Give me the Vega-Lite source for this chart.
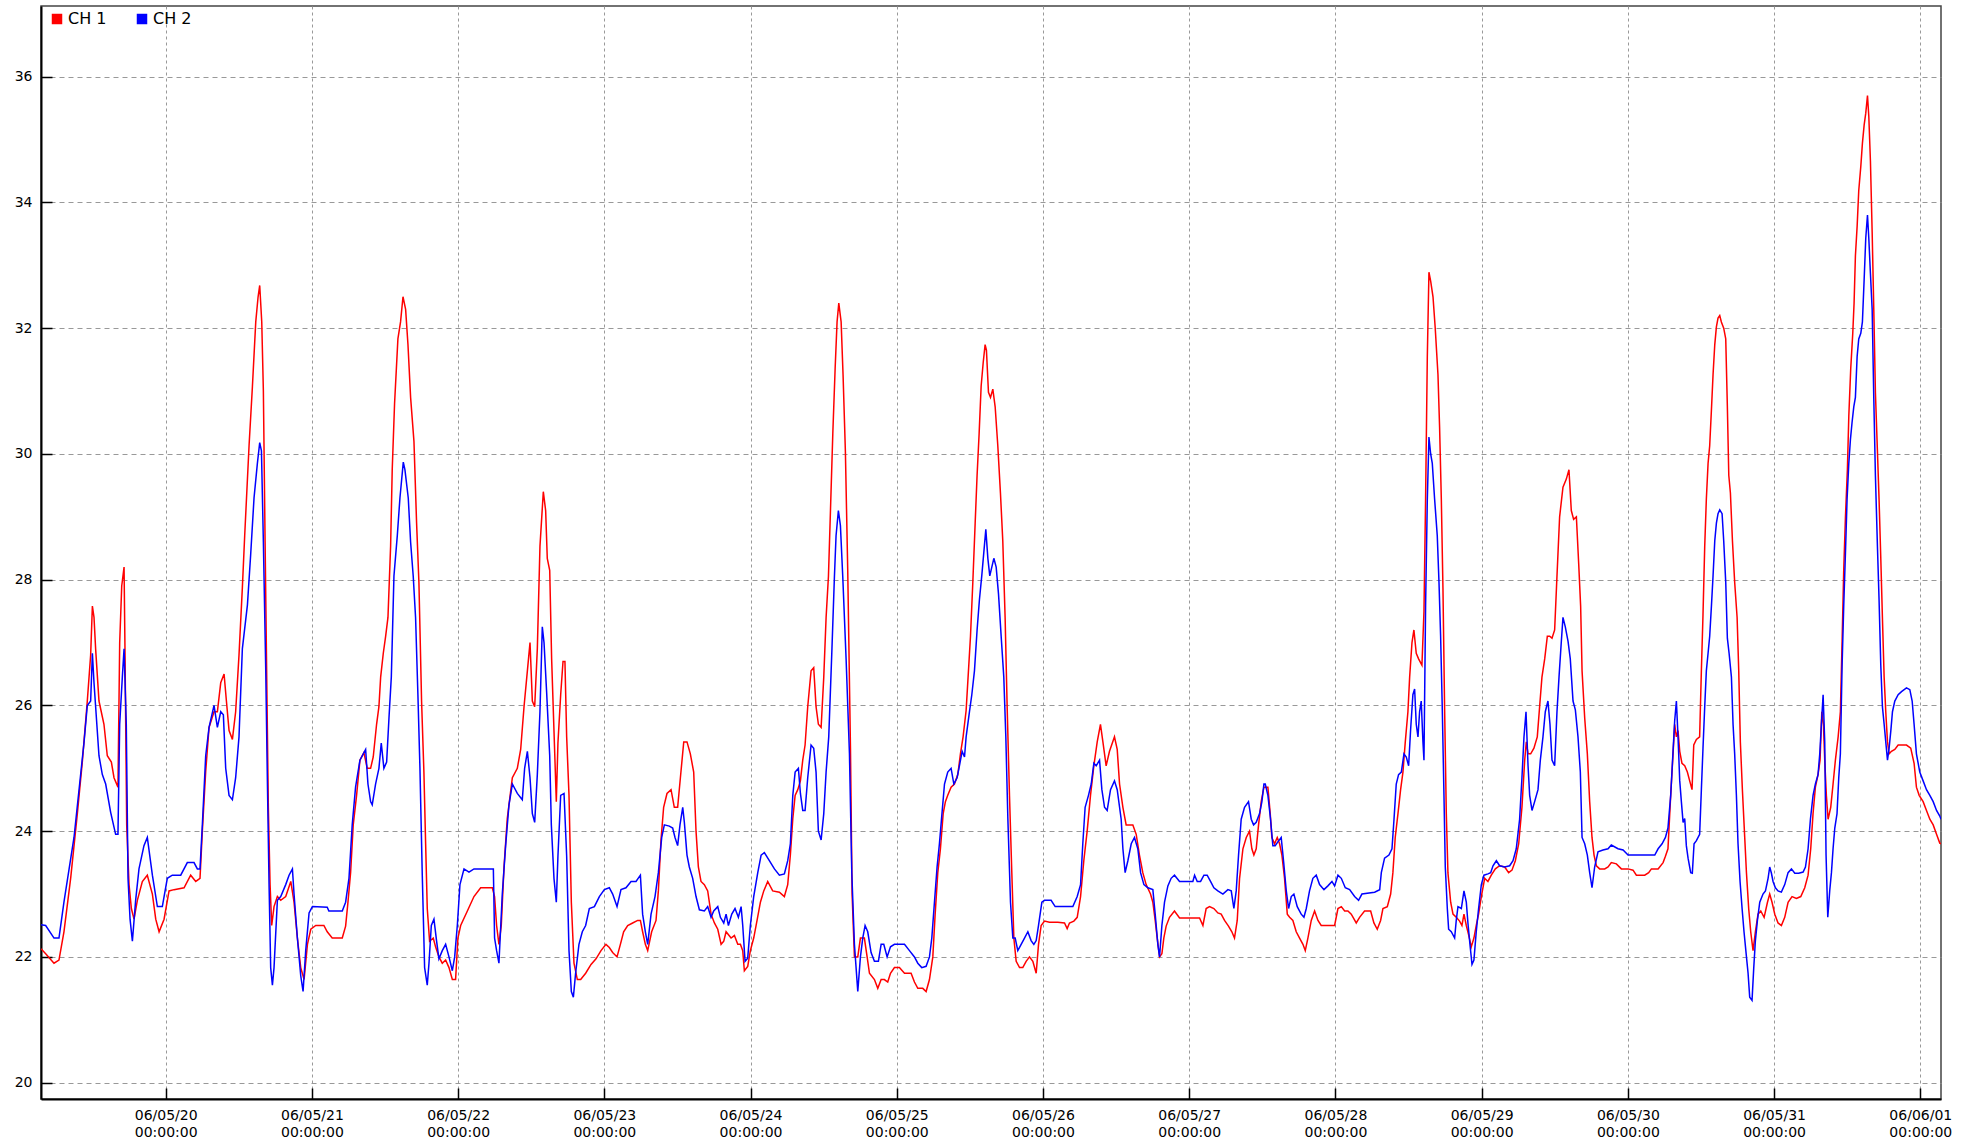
{
"$schema":"https://vega.github.io/schema/vega-lite/v6.json",
"width":1900,"height":1093,
"autosize":{"type":"none"},
"padding":{"left":41,"top":6,"right":36,"bottom":43},
"background":"white",
"config":{"view":{"stroke":"#444","strokeWidth":1.5},"font":"DejaVu Sans","axis":{"labelFont":"DejaVu Sans","labelColor":"#000"},"legend":{"labelFont":"DejaVu Sans"}},
"datasets":{
"ch1":[
{"t":"2006-05-19T03:32","v":22.13},{"t":"2006-05-19T04:18","v":22.05},{"t":"2006-05-19T05:40","v":21.9},{"t":"2006-05-19T06:29","v":21.95},{"t":"2006-05-19T07:18","v":22.4},{"t":"2006-05-19T08:24","v":23.25},{"t":"2006-05-19T09:30","v":24.28},{"t":"2006-05-19T10:19","v":25.1},{"t":"2006-05-19T11:08","v":26.07},{"t":"2006-05-19T11:41","v":26.8},{"t":"2006-05-19T11:58","v":27.58},{"t":"2006-05-19T12:14","v":27.4},{"t":"2006-05-19T12:30","v":26.9},{"t":"2006-05-19T13:03","v":26.07},{"t":"2006-05-19T13:52","v":25.7},{"t":"2006-05-19T14:25","v":25.2},{"t":"2006-05-19T15:05","v":25.1},{"t":"2006-05-19T15:31","v":24.85},{"t":"2006-05-19T16:10","v":24.7},{"t":"2006-05-19T16:27","v":27.0},{"t":"2006-05-19T16:47","v":27.9},{"t":"2006-05-19T17:10","v":28.2},{"t":"2006-05-19T17:19","v":26.9},{"t":"2006-05-19T17:36","v":24.1},{"t":"2006-05-19T17:59","v":23.15},{"t":"2006-05-19T18:22","v":22.77},{"t":"2006-05-19T18:48","v":22.6},{"t":"2006-05-19T19:21","v":22.9},{"t":"2006-05-19T20:10","v":23.2},{"t":"2006-05-19T20:59","v":23.3},{"t":"2006-05-19T21:49","v":23.0},{"t":"2006-05-19T22:22","v":22.6},{"t":"2006-05-19T22:55","v":22.4},{"t":"2006-05-19T23:44","v":22.6},
{"t":"2006-05-20T00:33","v":23.05},{"t":"2006-05-20T01:22","v":23.07},{"t":"2006-05-20T03:01","v":23.1},{"t":"2006-05-20T04:06","v":23.3},{"t":"2006-05-20T04:56","v":23.2},{"t":"2006-05-20T05:38","v":23.25},{"t":"2006-05-20T06:01","v":24.0},{"t":"2006-05-20T06:34","v":24.95},{"t":"2006-05-20T07:07","v":25.65},{"t":"2006-05-20T07:56","v":25.9},{"t":"2006-05-20T08:29","v":25.9},{"t":"2006-05-20T09:02","v":26.36},{"t":"2006-05-20T09:35","v":26.5},{"t":"2006-05-20T09:58","v":26.07},{"t":"2006-05-20T10:24","v":25.6},{"t":"2006-05-20T10:57","v":25.46},{"t":"2006-05-20T11:29","v":25.9},{"t":"2006-05-20T12:02","v":26.8},{"t":"2006-05-20T12:35","v":27.87},{"t":"2006-05-20T12:58","v":28.7},{"t":"2006-05-20T13:41","v":30.13},{"t":"2006-05-20T14:14","v":31.07},{"t":"2006-05-20T14:47","v":32.1},{"t":"2006-05-20T15:10","v":32.5},{"t":"2006-05-20T15:26","v":32.68},{"t":"2006-05-20T15:46","v":32.1},{"t":"2006-05-20T16:02","v":31.0},{"t":"2006-05-20T16:19","v":28.6},{"t":"2006-05-20T16:35","v":26.45},{"t":"2006-05-20T16:51","v":24.38},{"t":"2006-05-20T17:08","v":23.15},{"t":"2006-05-20T17:24","v":22.5},{"t":"2006-05-20T17:47","v":22.8},{"t":"2006-05-20T18:20","v":22.96},{"t":"2006-05-20T18:53","v":22.9},{"t":"2006-05-20T19:42","v":22.96},{"t":"2006-05-20T20:32","v":23.2},{"t":"2006-05-20T21:04","v":22.87},{"t":"2006-05-20T21:37","v":22.3},{"t":"2006-05-20T22:10","v":21.83},{"t":"2006-05-20T22:43","v":21.64},{"t":"2006-05-20T23:16","v":22.2},{"t":"2006-05-20T23:49","v":22.44},
{"t":"2006-05-21T00:38","v":22.5},{"t":"2006-05-21T01:58","v":22.5},{"t":"2006-05-21T02:31","v":22.4},{"t":"2006-05-21T03:20","v":22.3},{"t":"2006-05-21T04:59","v":22.3},{"t":"2006-05-21T05:32","v":22.49},{"t":"2006-05-21T05:55","v":22.87},{"t":"2006-05-21T06:21","v":23.34},{"t":"2006-05-21T06:47","v":24.1},{"t":"2006-05-21T07:20","v":24.57},{"t":"2006-05-21T07:53","v":25.13},{"t":"2006-05-21T08:32","v":25.25},{"t":"2006-05-21T09:05","v":25.0},{"t":"2006-05-21T09:38","v":25.0},{"t":"2006-05-21T10:04","v":25.18},{"t":"2006-05-21T10:37","v":25.7},{"t":"2006-05-21T11:00","v":25.98},{"t":"2006-05-21T11:17","v":26.45},{"t":"2006-05-21T11:43","v":26.83},{"t":"2006-05-21T12:06","v":27.1},{"t":"2006-05-21T12:29","v":27.4},{"t":"2006-05-21T12:55","v":28.53},{"t":"2006-05-21T13:11","v":29.75},{"t":"2006-05-21T13:34","v":30.8},{"t":"2006-05-21T14:07","v":31.83},{"t":"2006-05-21T14:33","v":32.1},{"t":"2006-05-21T14:57","v":32.5},{"t":"2006-05-21T15:23","v":32.3},{"t":"2006-05-21T15:46","v":31.74},{"t":"2006-05-21T16:12","v":30.9},{"t":"2006-05-21T16:45","v":30.2},{"t":"2006-05-21T17:11","v":28.9},{"t":"2006-05-21T17:34","v":27.95},{"t":"2006-05-21T18:00","v":26.07},{"t":"2006-05-21T18:23","v":24.94},{"t":"2006-05-21T18:40","v":23.8},{"t":"2006-05-21T18:56","v":22.77},{"t":"2006-05-21T19:19","v":22.25},{"t":"2006-05-21T19:55","v":22.3},{"t":"2006-05-21T20:18","v":22.16},{"t":"2006-05-21T20:51","v":22.0},{"t":"2006-05-21T21:24","v":21.9},{"t":"2006-05-21T21:57","v":21.95},{"t":"2006-05-21T22:30","v":21.83},{"t":"2006-05-21T23:03","v":21.64},{"t":"2006-05-21T23:35","v":21.64},{"t":"2006-05-21T23:58","v":22.3},
{"t":"2006-05-22T00:25","v":22.5},{"t":"2006-05-22T01:31","v":22.73},{"t":"2006-05-22T02:36","v":22.96},{"t":"2006-05-22T03:42","v":23.1},{"t":"2006-05-22T05:37","v":23.1},{"t":"2006-05-22T05:59","v":22.96},{"t":"2006-05-22T06:19","v":22.5},{"t":"2006-05-22T06:42","v":22.2},{"t":"2006-05-22T07:05","v":22.5},{"t":"2006-05-22T07:32","v":23.43},{"t":"2006-05-22T08:04","v":24.2},{"t":"2006-05-22T08:54","v":24.85},{"t":"2006-05-22T09:43","v":25.0},{"t":"2006-05-22T10:16","v":25.3},{"t":"2006-05-22T10:49","v":25.98},{"t":"2006-05-22T11:22","v":26.55},{"t":"2006-05-22T11:48","v":27.0},{"t":"2006-05-22T12:11","v":26.07},{"t":"2006-05-22T12:34","v":25.98},{"t":"2006-05-22T13:00","v":26.9},{"t":"2006-05-22T13:26","v":28.53},{"t":"2006-05-22T13:59","v":29.4},{"t":"2006-05-22T14:22","v":29.1},{"t":"2006-05-22T14:38","v":28.34},{"t":"2006-05-22T15:02","v":28.15},{"t":"2006-05-22T15:21","v":26.74},{"t":"2006-05-22T15:44","v":25.6},{"t":"2006-05-22T16:07","v":24.47},{"t":"2006-05-22T16:23","v":25.4},{"t":"2006-05-22T16:50","v":26.17},{"t":"2006-05-22T17:13","v":26.7},{"t":"2006-05-22T17:32","v":26.7},{"t":"2006-05-22T17:49","v":25.5},{"t":"2006-05-22T18:12","v":24.57},{"t":"2006-05-22T18:35","v":22.87},{"t":"2006-05-22T19:01","v":21.9},{"t":"2006-05-22T19:34","v":21.64},{"t":"2006-05-22T20:07","v":21.64},{"t":"2006-05-22T20:56","v":21.74},{"t":"2006-05-22T21:49","v":21.88},{"t":"2006-05-22T22:38","v":21.97},{"t":"2006-05-22T23:27","v":22.1},
{"t":"2006-05-23T00:16","v":22.2},{"t":"2006-05-23T00:49","v":22.15},{"t":"2006-05-23T01:22","v":22.07},{"t":"2006-05-23T02:05","v":22.0},{"t":"2006-05-23T02:38","v":22.2},{"t":"2006-05-23T03:10","v":22.4},{"t":"2006-05-23T03:50","v":22.5},{"t":"2006-05-23T04:39","v":22.54},{"t":"2006-05-23T05:28","v":22.58},{"t":"2006-05-23T05:55","v":22.58},{"t":"2006-05-23T06:17","v":22.4},{"t":"2006-05-23T06:44","v":22.2},{"t":"2006-05-23T07:07","v":22.1},{"t":"2006-05-23T07:46","v":22.4},{"t":"2006-05-23T08:29","v":22.58},{"t":"2006-05-23T08:52","v":23.05},{"t":"2006-05-23T09:18","v":23.86},{"t":"2006-05-23T09:44","v":24.38},{"t":"2006-05-23T10:17","v":24.6},{"t":"2006-05-23T10:57","v":24.66},{"t":"2006-05-23T11:29","v":24.38},{"t":"2006-05-23T12:02","v":24.38},{"t":"2006-05-23T12:29","v":24.85},{"t":"2006-05-23T13:02","v":25.42},{"t":"2006-05-23T13:34","v":25.42},{"t":"2006-05-23T14:07","v":25.23},{"t":"2006-05-23T14:40","v":24.94},{"t":"2006-05-23T15:03","v":24.0},{"t":"2006-05-23T15:26","v":23.43},{"t":"2006-05-23T15:52","v":23.2},{"t":"2006-05-23T16:25","v":23.15},{"t":"2006-05-23T16:58","v":23.05},{"t":"2006-05-23T17:31","v":22.68},{"t":"2006-05-23T18:04","v":22.54},{"t":"2006-05-23T18:37","v":22.44},{"t":"2006-05-23T19:10","v":22.2},{"t":"2006-05-23T19:36","v":22.25},{"t":"2006-05-23T19:59","v":22.4},{"t":"2006-05-23T20:48","v":22.3},{"t":"2006-05-23T21:21","v":22.34},{"t":"2006-05-23T21:54","v":22.2},{"t":"2006-05-23T22:20","v":22.2},{"t":"2006-05-23T22:43","v":22.1},{"t":"2006-05-23T22:59","v":21.78},{"t":"2006-05-23T23:32","v":21.85},{"t":"2006-05-23T23:58","v":22.1},
{"t":"2006-05-24T00:31","v":22.3},{"t":"2006-05-24T01:04","v":22.58},{"t":"2006-05-24T01:37","v":22.87},{"t":"2006-05-24T02:10","v":23.05},{"t":"2006-05-24T02:49","v":23.2},{"t":"2006-05-24T03:38","v":23.05},{"t":"2006-05-24T04:44","v":23.03},{"t":"2006-05-24T05:33","v":22.96},{"t":"2006-05-24T06:06","v":23.15},{"t":"2006-05-24T06:32","v":23.62},{"t":"2006-05-24T06:56","v":24.2},{"t":"2006-05-24T07:19","v":24.57},{"t":"2006-05-24T07:45","v":24.66},{"t":"2006-05-24T08:11","v":24.8},{"t":"2006-05-24T08:34","v":25.13},{"t":"2006-05-24T08:57","v":25.37},{"t":"2006-05-24T09:23","v":25.98},{"t":"2006-05-24T09:56","v":26.55},{"t":"2006-05-24T10:22","v":26.6},{"t":"2006-05-24T10:45","v":25.98},{"t":"2006-05-24T11:08","v":25.7},{"t":"2006-05-24T11:35","v":25.65},{"t":"2006-05-24T12:01","v":26.45},{"t":"2006-05-24T12:24","v":27.4},{"t":"2006-05-24T12:47","v":28.05},{"t":"2006-05-24T13:07","v":29.1},{"t":"2006-05-24T13:30","v":30.32},{"t":"2006-05-24T13:53","v":31.36},{"t":"2006-05-24T14:12","v":32.1},{"t":"2006-05-24T14:29","v":32.4},{"t":"2006-05-24T14:52","v":32.1},{"t":"2006-05-24T15:11","v":31.26},{"t":"2006-05-24T15:34","v":30.04},{"t":"2006-05-24T15:57","v":28.15},{"t":"2006-05-24T16:24","v":25.32},{"t":"2006-05-24T16:40","v":23.0},{"t":"2006-05-24T17:03","v":22.0},{"t":"2006-05-24T17:36","v":22.0},{"t":"2006-05-24T18:02","v":22.3},{"t":"2006-05-24T18:41","v":22.3},{"t":"2006-05-24T19:08","v":22.0},{"t":"2006-05-24T19:31","v":21.74},{"t":"2006-05-24T20:20","v":21.64},{"t":"2006-05-24T20:53","v":21.5},{"t":"2006-05-24T21:26","v":21.64},{"t":"2006-05-24T21:58","v":21.64},{"t":"2006-05-24T22:31","v":21.6},{"t":"2006-05-24T22:58","v":21.74},{"t":"2006-05-24T23:37","v":21.83},
{"t":"2006-05-25T00:26","v":21.83},{"t":"2006-05-25T01:16","v":21.74},{"t":"2006-05-25T02:21","v":21.74},{"t":"2006-05-25T02:54","v":21.6},{"t":"2006-05-25T03:27","v":21.5},{"t":"2006-05-25T04:16","v":21.5},{"t":"2006-05-25T04:49","v":21.45},{"t":"2006-05-25T05:22","v":21.64},{"t":"2006-05-25T05:55","v":22.0},{"t":"2006-05-25T06:18","v":22.68},{"t":"2006-05-25T06:44","v":23.34},{"t":"2006-05-25T07:10","v":23.72},{"t":"2006-05-25T07:37","v":24.28},{"t":"2006-05-25T07:59","v":24.47},{"t":"2006-05-25T08:22","v":24.57},{"t":"2006-05-25T08:55","v":24.7},{"t":"2006-05-25T09:28","v":24.75},{"t":"2006-05-25T10:01","v":24.9},{"t":"2006-05-25T10:27","v":25.23},{"t":"2006-05-25T10:53","v":25.5},{"t":"2006-05-25T11:23","v":25.92},{"t":"2006-05-25T11:46","v":26.55},{"t":"2006-05-25T12:06","v":27.1},{"t":"2006-05-25T12:29","v":27.96},{"t":"2006-05-25T12:52","v":28.9},{"t":"2006-05-25T13:11","v":29.66},{"t":"2006-05-25T13:31","v":30.32},{"t":"2006-05-25T13:51","v":31.08},{"t":"2006-05-25T14:11","v":31.45},{"t":"2006-05-25T14:30","v":31.74},{"t":"2006-05-25T14:43","v":31.65},{"t":"2006-05-25T15:03","v":30.98},{"t":"2006-05-25T15:23","v":30.9},{"t":"2006-05-25T15:46","v":31.03},{"t":"2006-05-25T16:09","v":30.75},{"t":"2006-05-25T16:35","v":30.13},{"t":"2006-05-25T17:01","v":29.38},{"t":"2006-05-25T17:24","v":28.62},{"t":"2006-05-25T17:47","v":27.4},{"t":"2006-05-25T18:07","v":25.98},{"t":"2006-05-25T18:30","v":24.57},{"t":"2006-05-25T18:53","v":23.34},{"t":"2006-05-25T19:13","v":22.3},{"t":"2006-05-25T19:36","v":21.93},{"t":"2006-05-25T20:09","v":21.83},{"t":"2006-05-25T20:41","v":21.83},{"t":"2006-05-25T21:14","v":21.93},{"t":"2006-05-25T21:47","v":22.0},{"t":"2006-05-25T22:20","v":21.93},{"t":"2006-05-25T22:53","v":21.74},{"t":"2006-05-25T23:16","v":22.2},{"t":"2006-05-25T23:42","v":22.5},
{"t":"2006-05-26T00:15","v":22.57},{"t":"2006-05-26T01:04","v":22.55},{"t":"2006-05-26T02:26","v":22.55},{"t":"2006-05-26T03:32","v":22.54},{"t":"2006-05-26T03:58","v":22.45},{"t":"2006-05-26T04:21","v":22.54},{"t":"2006-05-26T05:04","v":22.57},{"t":"2006-05-26T05:37","v":22.63},{"t":"2006-05-26T06:10","v":22.96},{"t":"2006-05-26T06:42","v":23.53},{"t":"2006-05-26T07:15","v":24.0},{"t":"2006-05-26T07:48","v":24.57},{"t":"2006-05-26T08:21","v":25.04},{"t":"2006-05-26T08:54","v":25.42},{"t":"2006-05-26T09:26","v":25.7},{"t":"2006-05-26T09:50","v":25.42},{"t":"2006-05-26T10:22","v":25.04},{"t":"2006-05-26T10:55","v":25.27},{"t":"2006-05-26T11:44","v":25.5},{"t":"2006-05-26T12:11","v":25.3},{"t":"2006-05-26T12:34","v":24.75},{"t":"2006-05-26T13:07","v":24.38},{"t":"2006-05-26T13:39","v":24.1},{"t":"2006-05-26T14:45","v":24.1},{"t":"2006-05-26T15:18","v":23.95},{"t":"2006-05-26T15:50","v":23.62},{"t":"2006-05-26T16:23","v":23.34},{"t":"2006-05-26T16:56","v":23.15},{"t":"2006-05-26T17:39","v":23.0},{"t":"2006-05-26T18:02","v":22.87},{"t":"2006-05-26T18:25","v":22.58},{"t":"2006-05-26T18:45","v":22.3},{"t":"2006-05-26T19:08","v":22.0},{"t":"2006-05-26T19:31","v":22.05},{"t":"2006-05-26T19:50","v":22.3},{"t":"2006-05-26T20:13","v":22.49},{"t":"2006-05-26T20:46","v":22.63},{"t":"2006-05-26T21:35","v":22.73},{"t":"2006-05-26T22:25","v":22.62},{"t":"2006-05-26T23:47","v":22.62},
{"t":"2006-05-27T01:42","v":22.62},{"t":"2006-05-27T02:15","v":22.5},{"t":"2006-05-27T02:47","v":22.77},{"t":"2006-05-27T03:20","v":22.8},{"t":"2006-05-27T04:03","v":22.77},{"t":"2006-05-27T04:42","v":22.7},{"t":"2006-05-27T05:15","v":22.68},{"t":"2006-05-27T05:48","v":22.58},{"t":"2006-05-27T06:27","v":22.49},{"t":"2006-05-27T07:00","v":22.4},{"t":"2006-05-27T07:26","v":22.3},{"t":"2006-05-27T07:53","v":22.58},{"t":"2006-05-27T08:16","v":23.25},{"t":"2006-05-27T08:49","v":23.72},{"t":"2006-05-27T09:22","v":23.9},{"t":"2006-05-27T09:54","v":24.0},{"t":"2006-05-27T10:17","v":23.72},{"t":"2006-05-27T10:37","v":23.62},{"t":"2006-05-27T11:00","v":23.72},{"t":"2006-05-27T11:23","v":24.1},{"t":"2006-05-27T11:49","v":24.47},{"t":"2006-05-27T12:16","v":24.7},{"t":"2006-05-27T12:55","v":24.7},{"t":"2006-05-27T13:18","v":24.28},{"t":"2006-05-27T13:34","v":23.9},{"t":"2006-05-27T14:01","v":23.8},{"t":"2006-05-27T14:27","v":23.9},{"t":"2006-05-27T14:50","v":23.8},{"t":"2006-05-27T15:13","v":23.62},{"t":"2006-05-27T15:39","v":23.25},{"t":"2006-05-27T16:06","v":22.68},{"t":"2006-05-27T16:29","v":22.63},{"t":"2006-05-27T17:01","v":22.58},{"t":"2006-05-27T17:34","v":22.4},{"t":"2006-05-27T18:07","v":22.3},{"t":"2006-05-27T18:40","v":22.2},{"t":"2006-05-27T19:03","v":22.1},{"t":"2006-05-27T19:29","v":22.3},{"t":"2006-05-27T20:02","v":22.58},{"t":"2006-05-27T20:35","v":22.73},{"t":"2006-05-27T21:08","v":22.58},{"t":"2006-05-27T21:40","v":22.5},{"t":"2006-05-27T23:52","v":22.5},
{"t":"2006-05-28T00:25","v":22.77},{"t":"2006-05-28T00:58","v":22.8},{"t":"2006-05-28T01:31","v":22.73},{"t":"2006-05-28T02:03","v":22.73},{"t":"2006-05-28T02:36","v":22.68},{"t":"2006-05-28T03:25","v":22.54},{"t":"2006-05-28T03:58","v":22.63},{"t":"2006-05-28T04:47","v":22.73},{"t":"2006-05-28T05:47","v":22.73},{"t":"2006-05-28T06:19","v":22.54},{"t":"2006-05-28T06:52","v":22.44},{"t":"2006-05-28T07:25","v":22.58},{"t":"2006-05-28T07:48","v":22.77},{"t":"2006-05-28T08:31","v":22.8},{"t":"2006-05-28T09:04","v":23.0},{"t":"2006-05-28T09:26","v":23.34},{"t":"2006-05-28T09:49","v":23.9},{"t":"2006-05-28T10:16","v":24.28},{"t":"2006-05-28T10:42","v":24.66},{"t":"2006-05-28T11:05","v":24.94},{"t":"2006-05-28T11:28","v":25.42},{"t":"2006-05-28T11:54","v":25.9},{"t":"2006-05-28T12:11","v":26.45},{"t":"2006-05-28T12:34","v":27.0},{"t":"2006-05-28T12:53","v":27.2},{"t":"2006-05-28T13:16","v":26.83},{"t":"2006-05-28T13:39","v":26.74},{"t":"2006-05-28T14:12","v":26.64},{"t":"2006-05-28T14:32","v":27.49},{"t":"2006-05-28T14:48","v":29.28},{"t":"2006-05-28T15:05","v":31.55},{"t":"2006-05-28T15:21","v":32.89},{"t":"2006-05-28T15:38","v":32.75},{"t":"2006-05-28T16:01","v":32.5},{"t":"2006-05-28T16:23","v":32.0},{"t":"2006-05-28T16:50","v":31.26},{"t":"2006-05-28T17:06","v":30.42},{"t":"2006-05-28T17:23","v":29.28},{"t":"2006-05-28T17:39","v":27.87},{"t":"2006-05-28T17:55","v":25.98},{"t":"2006-05-28T18:12","v":24.28},{"t":"2006-05-28T18:28","v":23.34},{"t":"2006-05-28T18:55","v":22.87},{"t":"2006-05-28T19:18","v":22.68},{"t":"2006-05-28T19:50","v":22.63},{"t":"2006-05-28T20:23","v":22.57},{"t":"2006-05-28T20:46","v":22.5},{"t":"2006-05-28T21:06","v":22.68},{"t":"2006-05-28T21:29","v":22.5},{"t":"2006-05-28T21:52","v":22.35},{"t":"2006-05-28T22:18","v":22.16},{"t":"2006-05-28T22:44","v":22.3},{"t":"2006-05-28T23:07","v":22.5},{"t":"2006-05-28T23:30","v":22.68},{"t":"2006-05-28T23:57","v":22.96},
{"t":"2006-05-29T00:30","v":23.25},{"t":"2006-05-29T01:02","v":23.2},{"t":"2006-05-29T01:35","v":23.3},{"t":"2006-05-29T02:15","v":23.4},{"t":"2006-05-29T02:57","v":23.45},{"t":"2006-05-29T03:47","v":23.43},{"t":"2006-05-29T04:26","v":23.34},{"t":"2006-05-29T04:59","v":23.38},{"t":"2006-05-29T05:32","v":23.53},{"t":"2006-05-29T06:05","v":23.8},{"t":"2006-05-29T06:37","v":24.38},{"t":"2006-05-29T07:04","v":25.13},{"t":"2006-05-29T07:20","v":25.42},{"t":"2006-05-29T07:37","v":25.23},{"t":"2006-05-29T08:03","v":25.23},{"t":"2006-05-29T08:35","v":25.32},{"t":"2006-05-29T09:08","v":25.5},{"t":"2006-05-29T09:31","v":25.98},{"t":"2006-05-29T09:54","v":26.45},{"t":"2006-05-29T10:21","v":26.74},{"t":"2006-05-29T10:47","v":27.1},{"t":"2006-05-29T11:10","v":27.1},{"t":"2006-05-29T11:33","v":27.07},{"t":"2006-05-29T11:59","v":27.2},{"t":"2006-05-29T12:22","v":28.06},{"t":"2006-05-29T12:48","v":29.0},{"t":"2006-05-29T13:21","v":29.47},{"t":"2006-05-29T13:54","v":29.6},{"t":"2006-05-29T14:20","v":29.75},{"t":"2006-05-29T14:43","v":29.1},{"t":"2006-05-29T15:06","v":28.96},{"t":"2006-05-29T15:33","v":29.0},{"t":"2006-05-29T15:56","v":28.25},{"t":"2006-05-29T16:15","v":27.58},{"t":"2006-05-29T16:29","v":26.55},{"t":"2006-05-29T16:55","v":25.8},{"t":"2006-05-29T17:21","v":25.23},{"t":"2006-05-29T17:44","v":24.47},{"t":"2006-05-29T18:07","v":23.9},{"t":"2006-05-29T18:27","v":23.62},{"t":"2006-05-29T18:50","v":23.45},{"t":"2006-05-29T19:22","v":23.4},{"t":"2006-05-29T20:12","v":23.4},{"t":"2006-05-29T20:45","v":23.43},{"t":"2006-05-29T21:17","v":23.5},{"t":"2006-05-29T22:07","v":23.48},{"t":"2006-05-29T22:56","v":23.4},
{"t":"2006-05-30T00:02","v":23.4},{"t":"2006-05-30T00:51","v":23.38},{"t":"2006-05-30T01:24","v":23.3},{"t":"2006-05-30T02:46","v":23.3},{"t":"2006-05-30T03:25","v":23.34},{"t":"2006-05-30T03:52","v":23.4},{"t":"2006-05-30T04:58","v":23.4},{"t":"2006-05-30T05:47","v":23.5},{"t":"2006-05-30T06:10","v":23.6},{"t":"2006-05-30T06:35","v":23.72},{"t":"2006-05-30T07:02","v":24.57},{"t":"2006-05-30T07:25","v":25.23},{"t":"2006-05-30T07:41","v":25.7},{"t":"2006-05-30T07:58","v":25.5},{"t":"2006-05-30T08:14","v":25.6},{"t":"2006-05-30T08:31","v":25.27},{"t":"2006-05-30T08:53","v":25.08},{"t":"2006-05-30T09:20","v":25.04},{"t":"2006-05-30T09:46","v":24.94},{"t":"2006-05-30T10:09","v":24.8},{"t":"2006-05-30T10:32","v":24.66},{"t":"2006-05-30T10:49","v":25.37},{"t":"2006-05-30T11:15","v":25.46},{"t":"2006-05-30T11:47","v":25.5},{"t":"2006-05-30T12:04","v":26.55},{"t":"2006-05-30T12:20","v":27.44},{"t":"2006-05-30T12:37","v":28.53},{"t":"2006-05-30T12:53","v":29.28},{"t":"2006-05-30T13:10","v":29.85},{"t":"2006-05-30T13:26","v":30.13},{"t":"2006-05-30T13:43","v":30.7},{"t":"2006-05-30T13:59","v":31.26},{"t":"2006-05-30T14:16","v":31.74},{"t":"2006-05-30T14:32","v":32.02},{"t":"2006-05-30T14:48","v":32.16},{"t":"2006-05-30T15:05","v":32.2},{"t":"2006-05-30T15:21","v":32.1},{"t":"2006-05-30T15:44","v":32.0},{"t":"2006-05-30T16:04","v":31.83},{"t":"2006-05-30T16:20","v":30.75},{"t":"2006-05-30T16:34","v":29.66},{"t":"2006-05-30T16:50","v":29.38},{"t":"2006-05-30T17:10","v":28.62},{"t":"2006-05-30T17:32","v":27.96},{"t":"2006-05-30T17:56","v":27.4},{"t":"2006-05-30T18:12","v":26.55},{"t":"2006-05-30T18:28","v":25.42},{"t":"2006-05-30T18:48","v":24.66},{"t":"2006-05-30T19:11","v":23.9},{"t":"2006-05-30T19:28","v":23.34},{"t":"2006-05-30T19:50","v":22.77},{"t":"2006-05-30T20:10","v":22.4},{"t":"2006-05-30T20:33","v":22.1},{"t":"2006-05-30T20:56","v":22.4},{"t":"2006-05-30T21:22","v":22.68},{"t":"2006-05-30T21:49","v":22.73},{"t":"2006-05-30T22:22","v":22.63},{"t":"2006-05-30T22:55","v":22.87},{"t":"2006-05-30T23:17","v":23.0},{"t":"2006-05-30T23:40","v":22.87},
{"t":"2006-05-31T00:07","v":22.68},{"t":"2006-05-31T00:39","v":22.54},{"t":"2006-05-31T01:12","v":22.5},{"t":"2006-05-31T01:45","v":22.63},{"t":"2006-05-31T02:18","v":22.87},{"t":"2006-05-31T02:57","v":22.96},{"t":"2006-05-31T03:40","v":22.93},{"t":"2006-05-31T04:23","v":22.96},{"t":"2006-05-31T05:02","v":23.1},{"t":"2006-05-31T05:35","v":23.3},{"t":"2006-05-31T06:01","v":23.72},{"t":"2006-05-31T06:24","v":24.28},{"t":"2006-05-31T06:47","v":24.7},{"t":"2006-05-31T07:13","v":24.9},{"t":"2006-05-31T07:33","v":25.13},{"t":"2006-05-31T07:50","v":25.9},{"t":"2006-05-31T08:06","v":25.7},{"t":"2006-05-31T08:19","v":25.13},{"t":"2006-05-31T08:35","v":24.57},{"t":"2006-05-31T08:52","v":24.19},{"t":"2006-05-31T09:18","v":24.38},{"t":"2006-05-31T09:41","v":24.75},{"t":"2006-05-31T10:04","v":25.13},{"t":"2006-05-31T10:31","v":25.5},{"t":"2006-05-31T10:53","v":25.9},{"t":"2006-05-31T11:10","v":27.02},{"t":"2006-05-31T11:26","v":28.15},{"t":"2006-05-31T11:43","v":29.0},{"t":"2006-05-31T12:02","v":29.75},{"t":"2006-05-31T12:16","v":30.6},{"t":"2006-05-31T12:35","v":31.36},{"t":"2006-05-31T12:55","v":31.92},{"t":"2006-05-31T13:08","v":32.4},{"t":"2006-05-31T13:21","v":33.15},{"t":"2006-05-31T13:38","v":33.62},{"t":"2006-05-31T13:54","v":34.19},{"t":"2006-05-31T14:14","v":34.57},{"t":"2006-05-31T14:30","v":34.94},{"t":"2006-05-31T14:47","v":35.23},{"t":"2006-05-31T15:03","v":35.42},{"t":"2006-05-31T15:20","v":35.7},{"t":"2006-05-31T15:33","v":35.37},{"t":"2006-05-31T15:49","v":34.66},{"t":"2006-05-31T16:06","v":33.53},{"t":"2006-05-31T16:22","v":32.3},{"t":"2006-05-31T16:38","v":30.98},{"t":"2006-05-31T16:58","v":30.04},{"t":"2006-05-31T17:14","v":29.28},{"t":"2006-05-31T17:31","v":28.34},{"t":"2006-05-31T17:47","v":27.4},{"t":"2006-05-31T18:04","v":26.45},{"t":"2006-05-31T18:20","v":25.9},{"t":"2006-05-31T18:37","v":25.42},{"t":"2006-05-31T18:53","v":25.23},{"t":"2006-05-31T19:16","v":25.27},{"t":"2006-05-31T19:49","v":25.3},{"t":"2006-05-31T20:22","v":25.37},{"t":"2006-05-31T20:55","v":25.37},{"t":"2006-05-31T21:44","v":25.37},{"t":"2006-05-31T22:26","v":25.32},{"t":"2006-05-31T22:59","v":25.08},{"t":"2006-05-31T23:22","v":24.7},{"t":"2006-05-31T23:49","v":24.57},
{"t":"2006-06-01T00:28","v":24.47},{"t":"2006-06-01T01:01","v":24.33},{"t":"2006-06-01T01:34","v":24.19},{"t":"2006-06-01T02:07","v":24.1},{"t":"2006-06-01T02:40","v":23.95},{"t":"2006-06-01T03:12","v":23.81},{"t":"2006-06-01T03:24","v":23.8}
],
"ch2":[
{"t":"2006-05-19T03:32","v":22.51},{"t":"2006-05-19T04:18","v":22.5},{"t":"2006-05-19T05:40","v":22.3},{"t":"2006-05-19T06:29","v":22.3},{"t":"2006-05-19T07:18","v":22.87},{"t":"2006-05-19T08:57","v":23.9},{"t":"2006-05-19T10:35","v":25.4},{"t":"2006-05-19T11:08","v":26.0},{"t":"2006-05-19T11:41","v":26.07},{"t":"2006-05-19T11:58","v":26.83},{"t":"2006-05-19T12:14","v":26.36},{"t":"2006-05-19T13:03","v":25.2},{"t":"2006-05-19T13:36","v":24.9},{"t":"2006-05-19T14:09","v":24.75},{"t":"2006-05-19T14:58","v":24.3},{"t":"2006-05-19T15:47","v":23.95},{"t":"2006-05-19T16:10","v":23.95},{"t":"2006-05-19T16:27","v":25.7},{"t":"2006-05-19T16:53","v":26.45},{"t":"2006-05-19T17:10","v":26.9},{"t":"2006-05-19T17:32","v":25.7},{"t":"2006-05-19T17:49","v":23.25},{"t":"2006-05-19T18:09","v":22.6},{"t":"2006-05-19T18:32","v":22.25},{"t":"2006-05-19T19:04","v":22.9},{"t":"2006-05-19T19:37","v":23.4},{"t":"2006-05-19T20:26","v":23.77},{"t":"2006-05-19T20:59","v":23.9},{"t":"2006-05-19T21:49","v":23.3},{"t":"2006-05-19T22:38","v":22.8},{"t":"2006-05-19T23:27","v":22.8},
{"t":"2006-05-20T00:16","v":23.25},{"t":"2006-05-20T01:05","v":23.3},{"t":"2006-05-20T02:28","v":23.3},{"t":"2006-05-20T03:33","v":23.5},{"t":"2006-05-20T04:39","v":23.5},{"t":"2006-05-20T05:12","v":23.4},{"t":"2006-05-20T05:38","v":23.4},{"t":"2006-05-20T06:01","v":24.1},{"t":"2006-05-20T06:34","v":25.2},{"t":"2006-05-20T07:07","v":25.65},{"t":"2006-05-20T07:56","v":26.0},{"t":"2006-05-20T08:29","v":25.65},{"t":"2006-05-20T09:02","v":25.9},{"t":"2006-05-20T09:28","v":25.85},{"t":"2006-05-20T09:51","v":25.0},{"t":"2006-05-20T10:24","v":24.57},{"t":"2006-05-20T10:57","v":24.5},{"t":"2006-05-20T11:29","v":24.85},{"t":"2006-05-20T12:02","v":25.5},{"t":"2006-05-20T12:35","v":26.9},{"t":"2006-05-20T13:25","v":27.6},{"t":"2006-05-20T13:57","v":28.4},{"t":"2006-05-20T14:30","v":29.3},{"t":"2006-05-20T15:03","v":29.85},{"t":"2006-05-20T15:26","v":30.18},{"t":"2006-05-20T15:43","v":30.05},{"t":"2006-05-20T16:02","v":28.6},{"t":"2006-05-20T16:25","v":26.6},{"t":"2006-05-20T16:42","v":24.75},{"t":"2006-05-20T16:58","v":23.15},{"t":"2006-05-20T17:14","v":21.83},{"t":"2006-05-20T17:31","v":21.55},{"t":"2006-05-20T17:47","v":21.83},{"t":"2006-05-20T18:20","v":22.9},{"t":"2006-05-20T18:53","v":22.96},{"t":"2006-05-20T19:42","v":23.15},{"t":"2006-05-20T20:15","v":23.3},{"t":"2006-05-20T20:48","v":23.4},{"t":"2006-05-20T21:04","v":23.0},{"t":"2006-05-20T21:37","v":22.3},{"t":"2006-05-20T22:10","v":21.7},{"t":"2006-05-20T22:33","v":21.45},{"t":"2006-05-20T22:59","v":22.1},{"t":"2006-05-20T23:32","v":22.7},
{"t":"2006-05-21T00:05","v":22.8},{"t":"2006-05-21T02:31","v":22.79},{"t":"2006-05-21T02:47","v":22.73},{"t":"2006-05-21T04:59","v":22.73},{"t":"2006-05-21T05:32","v":22.87},{"t":"2006-05-21T06:05","v":23.25},{"t":"2006-05-21T06:37","v":24.1},{"t":"2006-05-21T07:10","v":24.7},{"t":"2006-05-21T07:53","v":25.13},{"t":"2006-05-21T08:16","v":25.2},{"t":"2006-05-21T08:49","v":25.3},{"t":"2006-05-21T09:12","v":24.75},{"t":"2006-05-21T09:38","v":24.47},{"t":"2006-05-21T09:54","v":24.42},{"t":"2006-05-21T10:27","v":24.75},{"t":"2006-05-21T11:00","v":25.0},{"t":"2006-05-21T11:23","v":25.4},{"t":"2006-05-21T11:49","v":25.0},{"t":"2006-05-21T12:16","v":25.1},{"t":"2006-05-21T12:39","v":25.8},{"t":"2006-05-21T13:02","v":26.45},{"t":"2006-05-21T13:28","v":28.06},{"t":"2006-05-21T14:01","v":28.7},{"t":"2006-05-21T14:27","v":29.3},{"t":"2006-05-21T15:00","v":29.87},{"t":"2006-05-21T15:16","v":29.75},{"t":"2006-05-21T15:49","v":29.3},{"t":"2006-05-21T16:12","v":28.6},{"t":"2006-05-21T16:38","v":28.05},{"t":"2006-05-21T17:01","v":27.4},{"t":"2006-05-21T17:24","v":26.17},{"t":"2006-05-21T17:44","v":25.0},{"t":"2006-05-21T18:07","v":23.3},{"t":"2006-05-21T18:30","v":21.83},{"t":"2006-05-21T18:56","v":21.55},{"t":"2006-05-21T19:13","v":21.9},{"t":"2006-05-21T19:36","v":22.5},{"t":"2006-05-21T20:02","v":22.6},{"t":"2006-05-21T20:28","v":22.25},{"t":"2006-05-21T20:51","v":21.97},{"t":"2006-05-21T21:24","v":22.1},{"t":"2006-05-21T21:57","v":22.2},{"t":"2006-05-21T22:30","v":22.0},{"t":"2006-05-21T23:03","v":21.78},{"t":"2006-05-21T23:26","v":22.0},{"t":"2006-05-21T23:52","v":22.5},
{"t":"2006-05-22T00:18","v":23.15},{"t":"2006-05-22T00:58","v":23.4},{"t":"2006-05-22T01:47","v":23.35},{"t":"2006-05-22T02:36","v":23.4},{"t":"2006-05-22T05:47","v":23.4},{"t":"2006-05-22T05:59","v":22.3},{"t":"2006-05-22T06:19","v":22.1},{"t":"2006-05-22T06:42","v":21.9},{"t":"2006-05-22T07:15","v":23.0},{"t":"2006-05-22T07:48","v":23.77},{"t":"2006-05-22T08:21","v":24.42},{"t":"2006-05-22T08:54","v":24.75},{"t":"2006-05-22T09:43","v":24.6},{"t":"2006-05-22T10:32","v":24.5},{"t":"2006-05-22T10:55","v":25.0},{"t":"2006-05-22T11:22","v":25.27},{"t":"2006-05-22T11:48","v":24.85},{"t":"2006-05-22T12:11","v":24.28},{"t":"2006-05-22T12:34","v":24.14},{"t":"2006-05-22T13:00","v":24.9},{"t":"2006-05-22T13:26","v":25.9},{"t":"2006-05-22T13:49","v":27.25},{"t":"2006-05-22T14:06","v":27.0},{"t":"2006-05-22T14:32","v":26.2},{"t":"2006-05-22T15:02","v":25.2},{"t":"2006-05-22T15:18","v":24.1},{"t":"2006-05-22T15:44","v":23.25},{"t":"2006-05-22T16:07","v":22.87},{"t":"2006-05-22T16:23","v":23.6},{"t":"2006-05-22T16:50","v":24.57},{"t":"2006-05-22T17:23","v":24.6},{"t":"2006-05-22T17:49","v":23.6},{"t":"2006-05-22T18:12","v":22.1},{"t":"2006-05-22T18:35","v":21.45},{"t":"2006-05-22T18:55","v":21.36},{"t":"2006-05-22T19:17","v":21.74},{"t":"2006-05-22T19:50","v":22.2},{"t":"2006-05-22T20:23","v":22.4},{"t":"2006-05-22T20:56","v":22.5},{"t":"2006-05-22T21:32","v":22.77},{"t":"2006-05-22T22:22","v":22.8},{"t":"2006-05-22T23:11","v":22.96},
{"t":"2006-05-23T00:00","v":23.07},{"t":"2006-05-23T00:49","v":23.1},{"t":"2006-05-23T01:22","v":23.0},{"t":"2006-05-23T02:05","v":22.8},{"t":"2006-05-23T02:44","v":23.07},{"t":"2006-05-23T03:33","v":23.1},{"t":"2006-05-23T04:23","v":23.2},{"t":"2006-05-23T05:12","v":23.2},{"t":"2006-05-23T05:55","v":23.3},{"t":"2006-05-23T06:17","v":22.68},{"t":"2006-05-23T06:44","v":22.4},{"t":"2006-05-23T07:07","v":22.2},{"t":"2006-05-23T07:40","v":22.68},{"t":"2006-05-23T08:19","v":22.96},{"t":"2006-05-23T08:52","v":23.34},{"t":"2006-05-23T09:25","v":23.9},{"t":"2006-05-23T09:51","v":24.1},{"t":"2006-05-23T10:40","v":24.08},{"t":"2006-05-23T11:13","v":24.05},{"t":"2006-05-23T11:36","v":23.9},{"t":"2006-05-23T12:02","v":23.77},{"t":"2006-05-23T12:25","v":24.1},{"t":"2006-05-23T12:52","v":24.38},{"t":"2006-05-23T13:08","v":24.14},{"t":"2006-05-23T13:34","v":23.62},{"t":"2006-05-23T13:57","v":23.43},{"t":"2006-05-23T14:30","v":23.25},{"t":"2006-05-23T15:03","v":22.96},{"t":"2006-05-23T15:36","v":22.75},{"t":"2006-05-23T16:25","v":22.73},{"t":"2006-05-23T16:58","v":22.8},{"t":"2006-05-23T17:31","v":22.63},{"t":"2006-05-23T17:57","v":22.73},{"t":"2006-05-23T18:37","v":22.8},{"t":"2006-05-23T19:03","v":22.63},{"t":"2006-05-23T19:36","v":22.54},{"t":"2006-05-23T19:59","v":22.68},{"t":"2006-05-23T20:22","v":22.5},{"t":"2006-05-23T20:55","v":22.68},{"t":"2006-05-23T21:27","v":22.77},{"t":"2006-05-23T22:00","v":22.63},{"t":"2006-05-23T22:27","v":22.8},{"t":"2006-05-23T22:43","v":22.5},{"t":"2006-05-23T23:06","v":21.93},{"t":"2006-05-23T23:32","v":21.98},{"t":"2006-05-23T23:58","v":22.5},
{"t":"2006-05-24T00:31","v":22.96},{"t":"2006-05-24T01:11","v":23.34},{"t":"2006-05-24T01:44","v":23.62},{"t":"2006-05-24T02:16","v":23.66},{"t":"2006-05-24T03:05","v":23.53},{"t":"2006-05-24T03:55","v":23.4},{"t":"2006-05-24T04:44","v":23.3},{"t":"2006-05-24T05:33","v":23.32},{"t":"2006-05-24T06:06","v":23.53},{"t":"2006-05-24T06:32","v":23.8},{"t":"2006-05-24T06:56","v":24.57},{"t":"2006-05-24T07:19","v":24.94},{"t":"2006-05-24T07:51","v":25.0},{"t":"2006-05-24T08:11","v":24.6},{"t":"2006-05-24T08:34","v":24.33},{"t":"2006-05-24T08:57","v":24.33},{"t":"2006-05-24T09:23","v":24.85},{"t":"2006-05-24T09:56","v":25.37},{"t":"2006-05-24T10:22","v":25.32},{"t":"2006-05-24T10:45","v":24.94},{"t":"2006-05-24T11:08","v":24.0},{"t":"2006-05-24T11:35","v":23.86},{"t":"2006-05-24T12:01","v":24.28},{"t":"2006-05-24T12:24","v":24.94},{"t":"2006-05-24T12:50","v":25.5},{"t":"2006-05-24T13:20","v":26.83},{"t":"2006-05-24T13:46","v":28.05},{"t":"2006-05-24T14:02","v":28.7},{"t":"2006-05-24T14:25","v":29.1},{"t":"2006-05-24T14:45","v":28.86},{"t":"2006-05-24T15:08","v":28.05},{"t":"2006-05-24T15:41","v":26.74},{"t":"2006-05-24T16:14","v":25.23},{"t":"2006-05-24T16:37","v":23.34},{"t":"2006-05-24T17:03","v":22.2},{"t":"2006-05-24T17:36","v":21.45},{"t":"2006-05-24T18:02","v":22.0},{"t":"2006-05-24T18:25","v":22.3},{"t":"2006-05-24T18:48","v":22.5},{"t":"2006-05-24T19:14","v":22.4},{"t":"2006-05-24T19:47","v":22.07},{"t":"2006-05-24T20:20","v":21.93},{"t":"2006-05-24T20:59","v":21.93},{"t":"2006-05-24T21:26","v":22.2},{"t":"2006-05-24T21:52","v":22.2},{"t":"2006-05-24T22:25","v":22.0},{"t":"2006-05-24T22:58","v":22.16},{"t":"2006-05-24T23:37","v":22.2},
{"t":"2006-05-25T01:16","v":22.2},{"t":"2006-05-25T02:05","v":22.1},{"t":"2006-05-25T02:54","v":22.0},{"t":"2006-05-25T03:27","v":21.9},{"t":"2006-05-25T04:06","v":21.83},{"t":"2006-05-25T04:49","v":21.85},{"t":"2006-05-25T05:22","v":22.0},{"t":"2006-05-25T05:45","v":22.3},{"t":"2006-05-25T06:11","v":22.87},{"t":"2006-05-25T06:37","v":23.43},{"t":"2006-05-25T07:00","v":23.8},{"t":"2006-05-25T07:23","v":24.24},{"t":"2006-05-25T07:50","v":24.75},{"t":"2006-05-25T08:22","v":24.94},{"t":"2006-05-25T08:55","v":25.0},{"t":"2006-05-25T09:22","v":24.75},{"t":"2006-05-25T09:54","v":24.85},{"t":"2006-05-25T10:17","v":25.04},{"t":"2006-05-25T10:44","v":25.27},{"t":"2006-05-25T11:07","v":25.18},{"t":"2006-05-25T11:23","v":25.5},{"t":"2006-05-25T11:56","v":25.9},{"t":"2006-05-25T12:19","v":26.17},{"t":"2006-05-25T12:45","v":26.55},{"t":"2006-05-25T13:11","v":27.2},{"t":"2006-05-25T13:34","v":27.68},{"t":"2006-05-25T13:57","v":28.06},{"t":"2006-05-25T14:17","v":28.43},{"t":"2006-05-25T14:37","v":28.8},{"t":"2006-05-25T14:57","v":28.34},{"t":"2006-05-25T15:16","v":28.06},{"t":"2006-05-25T15:36","v":28.2},{"t":"2006-05-25T15:56","v":28.34},{"t":"2006-05-25T16:19","v":28.2},{"t":"2006-05-25T16:42","v":27.77},{"t":"2006-05-25T17:08","v":27.1},{"t":"2006-05-25T17:34","v":26.45},{"t":"2006-05-25T17:54","v":25.5},{"t":"2006-05-25T18:14","v":24.2},{"t":"2006-05-25T18:40","v":22.87},{"t":"2006-05-25T19:03","v":22.3},{"t":"2006-05-25T19:26","v":22.3},{"t":"2006-05-25T19:52","v":22.1},{"t":"2006-05-25T20:25","v":22.2},{"t":"2006-05-25T20:58","v":22.3},{"t":"2006-05-25T21:31","v":22.4},{"t":"2006-05-25T22:03","v":22.26},{"t":"2006-05-25T22:30","v":22.2},{"t":"2006-05-25T22:53","v":22.26},{"t":"2006-05-25T23:16","v":22.5},{"t":"2006-05-25T23:49","v":22.87},
{"t":"2006-05-26T00:15","v":22.9},{"t":"2006-05-26T01:20","v":22.9},{"t":"2006-05-26T02:00","v":22.8},{"t":"2006-05-26T04:54","v":22.8},{"t":"2006-05-26T05:37","v":22.96},{"t":"2006-05-26T06:10","v":23.15},{"t":"2006-05-26T06:32","v":23.8},{"t":"2006-05-26T06:55","v":24.38},{"t":"2006-05-26T07:28","v":24.57},{"t":"2006-05-26T07:55","v":24.75},{"t":"2006-05-26T08:21","v":25.08},{"t":"2006-05-26T08:44","v":25.04},{"t":"2006-05-26T09:17","v":25.13},{"t":"2006-05-26T09:40","v":24.66},{"t":"2006-05-26T10:06","v":24.38},{"t":"2006-05-26T10:32","v":24.33},{"t":"2006-05-26T11:05","v":24.66},{"t":"2006-05-26T11:44","v":24.8},{"t":"2006-05-26T12:11","v":24.66},{"t":"2006-05-26T12:50","v":24.19},{"t":"2006-05-26T13:07","v":23.72},{"t":"2006-05-26T13:29","v":23.34},{"t":"2006-05-26T13:56","v":23.53},{"t":"2006-05-26T14:29","v":23.8},{"t":"2006-05-26T15:01","v":23.9},{"t":"2006-05-26T15:34","v":23.72},{"t":"2006-05-26T16:01","v":23.34},{"t":"2006-05-26T16:34","v":23.15},{"t":"2006-05-26T17:13","v":23.1},{"t":"2006-05-26T18:02","v":23.07},{"t":"2006-05-26T18:25","v":22.68},{"t":"2006-05-26T18:51","v":22.2},{"t":"2006-05-26T19:08","v":22.0},{"t":"2006-05-26T19:31","v":22.5},{"t":"2006-05-26T19:57","v":22.87},{"t":"2006-05-26T20:30","v":23.13},{"t":"2006-05-26T21:02","v":23.25},{"t":"2006-05-26T21:35","v":23.3},{"t":"2006-05-26T22:25","v":23.2},
{"t":"2006-05-27T00:36","v":23.2},{"t":"2006-05-27T00:53","v":23.3},{"t":"2006-05-27T01:19","v":23.2},{"t":"2006-05-27T01:52","v":23.2},{"t":"2006-05-27T02:25","v":23.3},{"t":"2006-05-27T02:57","v":23.3},{"t":"2006-05-27T03:30","v":23.2},{"t":"2006-05-27T04:03","v":23.1},{"t":"2006-05-27T04:42","v":23.05},{"t":"2006-05-27T05:32","v":23.0},{"t":"2006-05-27T06:21","v":23.07},{"t":"2006-05-27T06:54","v":23.05},{"t":"2006-05-27T07:20","v":22.77},{"t":"2006-05-27T07:43","v":23.05},{"t":"2006-05-27T08:06","v":23.62},{"t":"2006-05-27T08:32","v":24.19},{"t":"2006-05-27T09:05","v":24.38},{"t":"2006-05-27T09:44","v":24.47},{"t":"2006-05-27T10:11","v":24.19},{"t":"2006-05-27T10:34","v":24.1},{"t":"2006-05-27T11:00","v":24.14},{"t":"2006-05-27T11:33","v":24.28},{"t":"2006-05-27T11:56","v":24.47},{"t":"2006-05-27T12:16","v":24.75},{"t":"2006-05-27T12:29","v":24.75},{"t":"2006-05-27T12:55","v":24.57},{"t":"2006-05-27T13:21","v":24.19},{"t":"2006-05-27T13:44","v":23.77},{"t":"2006-05-27T14:07","v":23.77},{"t":"2006-05-27T14:33","v":23.83},{"t":"2006-05-27T15:06","v":23.9},{"t":"2006-05-27T15:29","v":23.53},{"t":"2006-05-27T15:56","v":23.05},{"t":"2006-05-27T16:19","v":22.77},{"t":"2006-05-27T16:45","v":22.96},{"t":"2006-05-27T17:11","v":23.0},{"t":"2006-05-27T17:44","v":22.8},{"t":"2006-05-27T18:23","v":22.68},{"t":"2006-05-27T18:50","v":22.63},{"t":"2006-05-27T19:13","v":22.77},{"t":"2006-05-27T19:45","v":23.05},{"t":"2006-05-27T20:18","v":23.25},{"t":"2006-05-27T20:51","v":23.3},{"t":"2006-05-27T21:24","v":23.15},{"t":"2006-05-27T22:07","v":23.07},{"t":"2006-05-27T22:46","v":23.13},{"t":"2006-05-27T23:26","v":23.2},{"t":"2006-05-27T23:52","v":23.13},
{"t":"2006-05-28T00:25","v":23.3},{"t":"2006-05-28T00:58","v":23.25},{"t":"2006-05-28T01:37","v":23.1},{"t":"2006-05-28T02:20","v":23.07},{"t":"2006-05-28T03:09","v":22.96},{"t":"2006-05-28T03:48","v":22.9},{"t":"2006-05-28T04:21","v":23.0},{"t":"2006-05-28T06:26","v":23.03},{"t":"2006-05-28T07:16","v":23.07},{"t":"2006-05-28T07:32","v":23.34},{"t":"2006-05-28T08:04","v":23.57},{"t":"2006-05-28T08:47","v":23.62},{"t":"2006-05-28T09:17","v":23.72},{"t":"2006-05-28T09:37","v":24.19},{"t":"2006-05-28T09:59","v":24.75},{"t":"2006-05-28T10:22","v":24.9},{"t":"2006-05-28T10:49","v":24.94},{"t":"2006-05-28T11:15","v":25.23},{"t":"2006-05-28T11:38","v":25.18},{"t":"2006-05-28T12:01","v":25.04},{"t":"2006-05-28T12:20","v":25.6},{"t":"2006-05-28T12:43","v":26.17},{"t":"2006-05-28T13:00","v":26.26},{"t":"2006-05-28T13:16","v":25.7},{"t":"2006-05-28T13:33","v":25.5},{"t":"2006-05-28T13:49","v":25.9},{"t":"2006-05-28T14:05","v":26.07},{"t":"2006-05-28T14:22","v":25.42},{"t":"2006-05-28T14:32","v":25.13},{"t":"2006-05-28T14:48","v":27.58},{"t":"2006-05-28T15:05","v":29.28},{"t":"2006-05-28T15:21","v":30.27},{"t":"2006-05-28T15:38","v":30.0},{"t":"2006-05-28T15:54","v":29.85},{"t":"2006-05-28T16:17","v":29.28},{"t":"2006-05-28T16:43","v":28.7},{"t":"2006-05-28T17:00","v":27.96},{"t":"2006-05-28T17:16","v":27.1},{"t":"2006-05-28T17:32","v":25.98},{"t":"2006-05-28T17:49","v":24.57},{"t":"2006-05-28T18:02","v":23.43},{"t":"2006-05-28T18:22","v":22.77},{"t":"2006-05-28T18:35","v":22.44},{"t":"2006-05-28T19:01","v":22.4},{"t":"2006-05-28T19:34","v":22.3},{"t":"2006-05-28T19:50","v":22.58},{"t":"2006-05-28T20:07","v":22.8},{"t":"2006-05-28T20:40","v":22.77},{"t":"2006-05-28T21:06","v":23.05},{"t":"2006-05-28T21:29","v":22.87},{"t":"2006-05-28T21:45","v":22.54},{"t":"2006-05-28T22:05","v":22.2},{"t":"2006-05-28T22:25","v":21.88},{"t":"2006-05-28T22:44","v":21.95},{"t":"2006-05-28T23:07","v":22.4},{"t":"2006-05-28T23:30","v":22.77},{"t":"2006-05-28T23:57","v":23.15},
{"t":"2006-05-29T00:23","v":23.3},{"t":"2006-05-29T01:02","v":23.32},{"t":"2006-05-29T01:29","v":23.34},{"t":"2006-05-29T01:52","v":23.45},{"t":"2006-05-29T02:25","v":23.53},{"t":"2006-05-29T02:57","v":23.45},{"t":"2006-05-29T03:47","v":23.43},{"t":"2006-05-29T04:36","v":23.45},{"t":"2006-05-29T05:09","v":23.53},{"t":"2006-05-29T05:41","v":23.72},{"t":"2006-05-29T06:14","v":24.19},{"t":"2006-05-29T06:37","v":24.85},{"t":"2006-05-29T06:57","v":25.5},{"t":"2006-05-29T07:17","v":25.9},{"t":"2006-05-29T07:37","v":25.04},{"t":"2006-05-29T07:53","v":24.57},{"t":"2006-05-29T08:16","v":24.33},{"t":"2006-05-29T08:42","v":24.47},{"t":"2006-05-29T09:15","v":24.66},{"t":"2006-05-29T09:38","v":25.13},{"t":"2006-05-29T10:04","v":25.5},{"t":"2006-05-29T10:27","v":25.9},{"t":"2006-05-29T10:53","v":26.07},{"t":"2006-05-29T11:13","v":25.7},{"t":"2006-05-29T11:33","v":25.13},{"t":"2006-05-29T11:59","v":25.04},{"t":"2006-05-29T12:22","v":25.9},{"t":"2006-05-29T12:42","v":26.45},{"t":"2006-05-29T13:05","v":27.02},{"t":"2006-05-29T13:21","v":27.4},{"t":"2006-05-29T13:44","v":27.25},{"t":"2006-05-29T14:11","v":27.02},{"t":"2006-05-29T14:33","v":26.74},{"t":"2006-05-29T15:00","v":26.07},{"t":"2006-05-29T15:23","v":25.93},{"t":"2006-05-29T15:49","v":25.5},{"t":"2006-05-29T16:12","v":24.94},{"t":"2006-05-29T16:29","v":23.9},{"t":"2006-05-29T16:55","v":23.8},{"t":"2006-05-29T17:21","v":23.62},{"t":"2006-05-29T17:44","v":23.34},{"t":"2006-05-29T18:07","v":23.1},{"t":"2006-05-29T18:33","v":23.43},{"t":"2006-05-29T19:06","v":23.67},{"t":"2006-05-29T19:55","v":23.7},{"t":"2006-05-29T20:45","v":23.72},{"t":"2006-05-29T21:17","v":23.78},{"t":"2006-05-29T22:23","v":23.72},{"t":"2006-05-29T23:13","v":23.7},
{"t":"2006-05-30T00:02","v":23.62},{"t":"2006-05-30T01:40","v":23.62},{"t":"2006-05-30T04:25","v":23.62},{"t":"2006-05-30T04:58","v":23.72},{"t":"2006-05-30T05:37","v":23.8},{"t":"2006-05-30T06:10","v":23.9},{"t":"2006-05-30T06:35","v":24.05},{"t":"2006-05-30T07:02","v":24.57},{"t":"2006-05-30T07:25","v":25.27},{"t":"2006-05-30T07:41","v":25.75},{"t":"2006-05-30T07:58","v":26.07},{"t":"2006-05-30T08:14","v":25.5},{"t":"2006-05-30T08:31","v":24.8},{"t":"2006-05-30T08:47","v":24.47},{"t":"2006-05-30T09:04","v":24.14},{"t":"2006-05-30T09:20","v":24.2},{"t":"2006-05-30T09:36","v":23.77},{"t":"2006-05-30T09:53","v":23.57},{"t":"2006-05-30T10:19","v":23.34},{"t":"2006-05-30T10:35","v":23.33},{"t":"2006-05-30T10:52","v":23.8},{"t":"2006-05-30T11:15","v":23.85},{"t":"2006-05-30T11:47","v":23.95},{"t":"2006-05-30T12:04","v":24.66},{"t":"2006-05-30T12:20","v":25.32},{"t":"2006-05-30T12:37","v":25.98},{"t":"2006-05-30T12:53","v":26.55},{"t":"2006-05-30T13:10","v":26.83},{"t":"2006-05-30T13:26","v":27.1},{"t":"2006-05-30T13:43","v":27.58},{"t":"2006-05-30T13:59","v":28.06},{"t":"2006-05-30T14:16","v":28.62},{"t":"2006-05-30T14:32","v":28.9},{"t":"2006-05-30T14:48","v":29.05},{"t":"2006-05-30T15:05","v":29.11},{"t":"2006-05-30T15:28","v":29.05},{"t":"2006-05-30T15:44","v":28.62},{"t":"2006-05-30T16:04","v":27.96},{"t":"2006-05-30T16:20","v":27.07},{"t":"2006-05-30T16:37","v":26.83},{"t":"2006-05-30T17:00","v":26.45},{"t":"2006-05-30T17:16","v":25.7},{"t":"2006-05-30T17:32","v":25.23},{"t":"2006-05-30T17:49","v":24.57},{"t":"2006-05-30T18:05","v":23.8},{"t":"2006-05-30T18:25","v":23.2},{"t":"2006-05-30T18:45","v":22.77},{"t":"2006-05-30T19:04","v":22.4},{"t":"2006-05-30T19:28","v":22.0},{"t":"2006-05-30T19:44","v":21.74},{"t":"2006-05-30T20:00","v":21.36},{"t":"2006-05-30T20:23","v":21.31},{"t":"2006-05-30T20:40","v":21.83},{"t":"2006-05-30T20:56","v":22.26},{"t":"2006-05-30T21:16","v":22.58},{"t":"2006-05-30T21:39","v":22.87},{"t":"2006-05-30T22:11","v":23.0},{"t":"2006-05-30T22:35","v":23.05},{"t":"2006-05-30T23:01","v":23.25},{"t":"2006-05-30T23:17","v":23.43},{"t":"2006-05-30T23:34","v":23.33},{"t":"2006-05-30T23:50","v":23.2},
{"t":"2006-05-31T00:13","v":23.1},{"t":"2006-05-31T00:39","v":23.05},{"t":"2006-05-31T01:12","v":23.03},{"t":"2006-05-31T01:45","v":23.15},{"t":"2006-05-31T02:18","v":23.34},{"t":"2006-05-31T02:51","v":23.4},{"t":"2006-05-31T03:24","v":23.33},{"t":"2006-05-31T04:03","v":23.33},{"t":"2006-05-31T04:46","v":23.35},{"t":"2006-05-31T05:09","v":23.43},{"t":"2006-05-31T05:35","v":23.72},{"t":"2006-05-31T05:58","v":24.19},{"t":"2006-05-31T06:24","v":24.57},{"t":"2006-05-31T06:47","v":24.75},{"t":"2006-05-31T07:13","v":24.9},{"t":"2006-05-31T07:30","v":25.23},{"t":"2006-05-31T07:46","v":25.7},{"t":"2006-05-31T08:03","v":26.17},{"t":"2006-05-31T08:19","v":25.42},{"t":"2006-05-31T08:32","v":23.62},{"t":"2006-05-31T08:49","v":22.63},{"t":"2006-05-31T09:08","v":23.05},{"t":"2006-05-31T09:25","v":23.34},{"t":"2006-05-31T09:41","v":23.72},{"t":"2006-05-31T09:58","v":24.05},{"t":"2006-05-31T10:20","v":24.28},{"t":"2006-05-31T10:37","v":24.85},{"t":"2006-05-31T10:53","v":25.23},{"t":"2006-05-31T11:10","v":26.64},{"t":"2006-05-31T11:26","v":27.58},{"t":"2006-05-31T11:43","v":28.43},{"t":"2006-05-31T11:59","v":29.28},{"t":"2006-05-31T12:16","v":29.85},{"t":"2006-05-31T12:32","v":30.23},{"t":"2006-05-31T12:48","v":30.5},{"t":"2006-05-31T13:05","v":30.75},{"t":"2006-05-31T13:21","v":30.9},{"t":"2006-05-31T13:38","v":31.55},{"t":"2006-05-31T13:54","v":31.83},{"t":"2006-05-31T14:14","v":31.92},{"t":"2006-05-31T14:30","v":32.1},{"t":"2006-05-31T14:47","v":32.77},{"t":"2006-05-31T15:03","v":33.43},{"t":"2006-05-31T15:20","v":33.8},{"t":"2006-05-31T15:33","v":33.43},{"t":"2006-05-31T15:49","v":32.87},{"t":"2006-05-31T16:06","v":32.3},{"t":"2006-05-31T16:22","v":30.89},{"t":"2006-05-31T16:38","v":29.66},{"t":"2006-05-31T16:58","v":28.53},{"t":"2006-05-31T17:14","v":27.68},{"t":"2006-05-31T17:31","v":26.64},{"t":"2006-05-31T17:47","v":25.98},{"t":"2006-05-31T18:04","v":25.7},{"t":"2006-05-31T18:20","v":25.42},{"t":"2006-05-31T18:37","v":25.13},{"t":"2006-05-31T18:53","v":25.32},{"t":"2006-05-31T19:10","v":25.6},{"t":"2006-05-31T19:26","v":25.9},{"t":"2006-05-31T19:49","v":26.07},{"t":"2006-05-31T20:22","v":26.17},{"t":"2006-05-31T20:55","v":26.22},{"t":"2006-05-31T21:44","v":26.28},{"t":"2006-05-31T22:17","v":26.25},{"t":"2006-05-31T22:40","v":26.07},{"t":"2006-05-31T22:59","v":25.7},{"t":"2006-05-31T23:22","v":25.23},{"t":"2006-05-31T23:55","v":24.94},
{"t":"2006-06-01T00:28","v":24.8},{"t":"2006-06-01T01:01","v":24.66},{"t":"2006-06-01T01:34","v":24.57},{"t":"2006-06-01T02:07","v":24.47},{"t":"2006-06-01T02:40","v":24.33},{"t":"2006-06-01T03:12","v":24.24},{"t":"2006-06-01T03:24","v":24.19}
]},
"layer":[
{"data":{"name":"ch1"},
 "mark":{"type":"line","strokeWidth":1.5,"clip":true},
 "encoding":{
  "x":{"field":"t","type":"temporal",
   "scale":{"domain":[{"year":2006,"month":5,"date":19,"hours":3,"minutes":32},{"year":2006,"month":6,"date":1,"hours":3,"minutes":24}],"nice":false},
   "axis":{"title":null,
    "values":[{"year":2006,"month":5,"date":20},{"year":2006,"month":5,"date":21},{"year":2006,"month":5,"date":22},{"year":2006,"month":5,"date":23},{"year":2006,"month":5,"date":24},{"year":2006,"month":5,"date":25},{"year":2006,"month":5,"date":26},{"year":2006,"month":5,"date":27},{"year":2006,"month":5,"date":28},{"year":2006,"month":5,"date":29},{"year":2006,"month":5,"date":30},{"year":2006,"month":5,"date":31},{"year":2006,"month":6,"date":1}],
    "labelExpr":"[timeFormat(datum.value,'%y/%m/%d'), timeFormat(datum.value,'%H:%M:%S')]",
    "grid":true,"gridColor":"#999","gridDash":[3,3],"gridWidth":1,
    "tickSize":-11,"tickWidth":1.5,"tickColor":"#000",
    "domainColor":"#000","domainWidth":2,
    "labelPadding":20,"labelFontSize":14,"labelLineHeight":17,"labelBaseline":"top","labelAlign":"center","labelOverlap":false,"labelFlush":false,"labelColor":"#000"}},
  "y":{"field":"v","type":"quantitative",
   "scale":{"domain":[19.74,37.125],"nice":false,"zero":false},
   "axis":{"title":null,"values":[20,22,24,26,28,30,32,34,36],"format":"d",
    "grid":true,"gridColor":"#999","gridDash":[5,4],"gridWidth":1,
    "tickSize":-11,"tickWidth":1.5,"tickColor":"#000",
    "domainColor":"#000","domainWidth":2,
    "labelPadding":20,"labelFontSize":14,"labelColor":"#000"}},
  "color":{"datum":"CH 1","type":"nominal",
   "scale":{"domain":["CH 1","CH 2"],"range":["#ff0000","#0000ff"]},
   "legend":{"title":null,"orient":"none","legendX":8,"legendY":5,"direction":"horizontal",
    "symbolType":"square","symbolSize":110,"symbolStrokeWidth":0,"symbolOpacity":1,
    "labelFontSize":16,"labelColor":"#000","labelOffset":3,"columnPadding":27,"padding":0,
    "encode":{"symbols":{"update":{"fill":{"scale":"color","field":"value"},"opacity":{"value":1}}}}}}
 }},
{"data":{"name":"ch2"},
 "mark":{"type":"line","strokeWidth":1.5,"clip":true},
 "encoding":{
  "x":{"field":"t","type":"temporal"},
  "y":{"field":"v","type":"quantitative"},
  "color":{"datum":"CH 2","type":"nominal"}
 }}
]
}
